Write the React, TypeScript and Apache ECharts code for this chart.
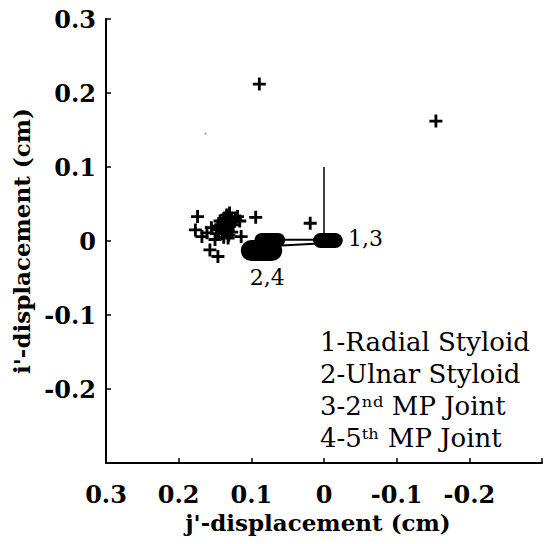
import React, { useEffect, useRef } from "react";
import * as echarts from "echarts";

// Tick values
const xTicks = [0.3, 0.2, 0.1, 0, -0.1, -0.2];
const yTicks = [0.3, 0.2, 0.1, 0, -0.1, -0.2];

// "+" markers (j', i') in cm
const plusPoints: number[][] = [
  [0.089, 0.212],
  [-0.154, 0.162],
  [0.019, 0.024],
  [0.174, 0.033],
  [0.177, 0.015],
  [0.094, 0.032],
  [0.114, 0.006],
  [0.116, 0.027],
  [0.157, -0.012],
  [0.146, -0.021],
  [0.168, 0.006],
  [0.161, 0.011],
  [0.155, 0.018],
  [0.13, 0.038],
  [0.119, 0.033],
  [0.138, 0.03],
  [0.15, 0.002],
  [0.132, 0.004],
  [0.14, 0.02],
  [0.135, 0.025],
  [0.13, 0.02],
  [0.145, 0.015],
  [0.14, 0.01],
  [0.135, 0.012],
  [0.128, 0.028],
  [0.125, 0.022],
  [0.142, 0.022],
  [0.138, 0.005],
  [0.148, 0.01],
  [0.133, 0.017],
  [0.127, 0.012],
  [0.143, 0.027],
  [0.137, 0.03],
  [0.131, 0.008],
  [0.146, 0.02],
  [0.139, 0.015],
  [0.134, 0.035],
  [0.122, 0.03],
];

// faint stray point
const strayPoints: number[][] = [[0.163, 0.145]];

// trajectories of landmarks
const radialMP2Track: number[][] = [
  [0.0047, 0.0007],
  [-0.0155, 0.0007],
];
const mp5Track: number[][] = [
  [0.086, 0.0014],
  [0.063, 0.0014],
];
const ulnarTrack: number[][] = [
  [0.1, -0.013],
  [0.072, -0.013],
];
const connectorUpper: number[][] = [
  [0.058, 0.0018],
  [0.0, 0.0018],
];
const connectorLower: number[][] = [
  [0.058, -0.006],
  [0.0, -0.003],
];
const verticalBar: number[][] = [
  [0, 0],
  [0, 0.1],
];

// annotation labels
const annotations: { text: string; pos: number[] }[] = [
  { text: "1,3", pos: [-0.057, 0.004] },
  { text: "2,4", pos: [0.078, -0.049] },
];

const legendLines = [
  "1-Radial Styloid",
  "2-Ulnar Styloid",
  "3-2ⁿᵈ MP Joint",
  "4-5ᵗʰ MP Joint",
];

const FONT = "DejaVu Serif";
const PLUS = "path://M3.9,0H6.1V3.9H10V6.1H6.1V10H3.9V6.1H0V3.9H3.9Z";

const fmt = (v: number) => {
  const r = Math.round(v * 10) / 10;
  if (r === -0.3) return "";
  return String(r === 0 ? 0 : r);
};

function thickLine(data: number[][], width: number) {
  return {
    type: "line",
    data,
    symbol: "none",
    silent: true,
    lineStyle: { color: "#000", width, cap: "round", join: "round" },
    z: 3,
  };
}

export default function App() {
  const ref = useRef<HTMLDivElement>(null);
  useEffect(() => {
    if (!ref.current) return;
    const chart = echarts.init(ref.current, undefined, { renderer: "svg" });
    const axisCommon = {
      type: "value",
      min: -0.3,
      max: 0.3,
      interval: 0.1,
      splitLine: { show: false },
      axisLine: { show: true, onZero: false, lineStyle: { color: "#000", width: 2 } },
      axisTick: { show: true, inside: true, length: 5, lineStyle: { color: "#000", width: 1.5 } },
    };
    const tickLabel = {
      formatter: fmt,
      fontFamily: FONT,
      fontSize: 24,
      fontWeight: "bold",
      color: "#000",
    };
    const titleStyle = { fontFamily: FONT, fontSize: 23, fontWeight: "bold", color: "#000" };
    chart.setOption({
      animation: false,
      backgroundColor: "#fff",
      textStyle: { fontFamily: FONT },
      grid: { left: 106, top: 19, width: 445, height: 444 },
      xAxis: {
        ...axisCommon,
        inverse: true,
        name: "j'-displacement (cm)",
        nameLocation: "middle",
        nameGap: 46,
        nameTextStyle: { ...titleStyle, padding: [0, 12, 0, 0] },
        axisLabel: { ...tickLabel, margin: 19 },
      },
      yAxis: {
        ...axisCommon,
        name: "i'-displacement (cm)",
        nameLocation: "middle",
        nameGap: 60,
        nameTextStyle: titleStyle,
        axisLabel: { ...tickLabel, margin: 10 },
      },
      series: [
        {
          type: "line",
          data: verticalBar,
          symbol: "none",
          lineStyle: { color: "#000", width: 1.5 },
          z: 2,
        },
        thickLine(connectorUpper, 2),
        thickLine(connectorLower, 2),
        thickLine(radialMP2Track, 15),
        thickLine(mp5Track, 14),
        thickLine(ulnarTrack, 21),
        {
          type: "scatter",
          data: plusPoints,
          symbol: PLUS,
          symbolSize: 13,
          itemStyle: { color: "#000", opacity: 1 },
          z: 4,
        },
        {
          type: "scatter",
          data: strayPoints,
          symbol: "circle",
          symbolSize: 2,
          itemStyle: { color: "#999", opacity: 1 },
        },
        {
          type: "scatter",
          data: annotations.map((a) => ({ value: a.pos, name: a.text })),
          symbolSize: 0,
          itemStyle: { color: "#000", opacity: 1 },
          label: {
            show: true,
            position: "inside",
            formatter: (p: any) => p.name,
            fontFamily: FONT,
            fontSize: 22,
            color: "#000",
            opacity: 1,
          },
          z: 5,
        },
      ],
      graphic: [
        {
          type: "text",
          left: 320,
          top: 326,
          style: {
            text: legendLines.join("\n"),
            fontFamily: FONT,
            fontSize: 26,
            fill: "#000",
            lineHeight: 32,
          },
        },
      ],
    });
    return () => chart.dispose();
  }, []);
  return (
    <div
      ref={ref}
      style={{ position: "fixed", left: 0, top: 0, width: 545, height: 544, background: "#fff" }}
    />
  );
}
